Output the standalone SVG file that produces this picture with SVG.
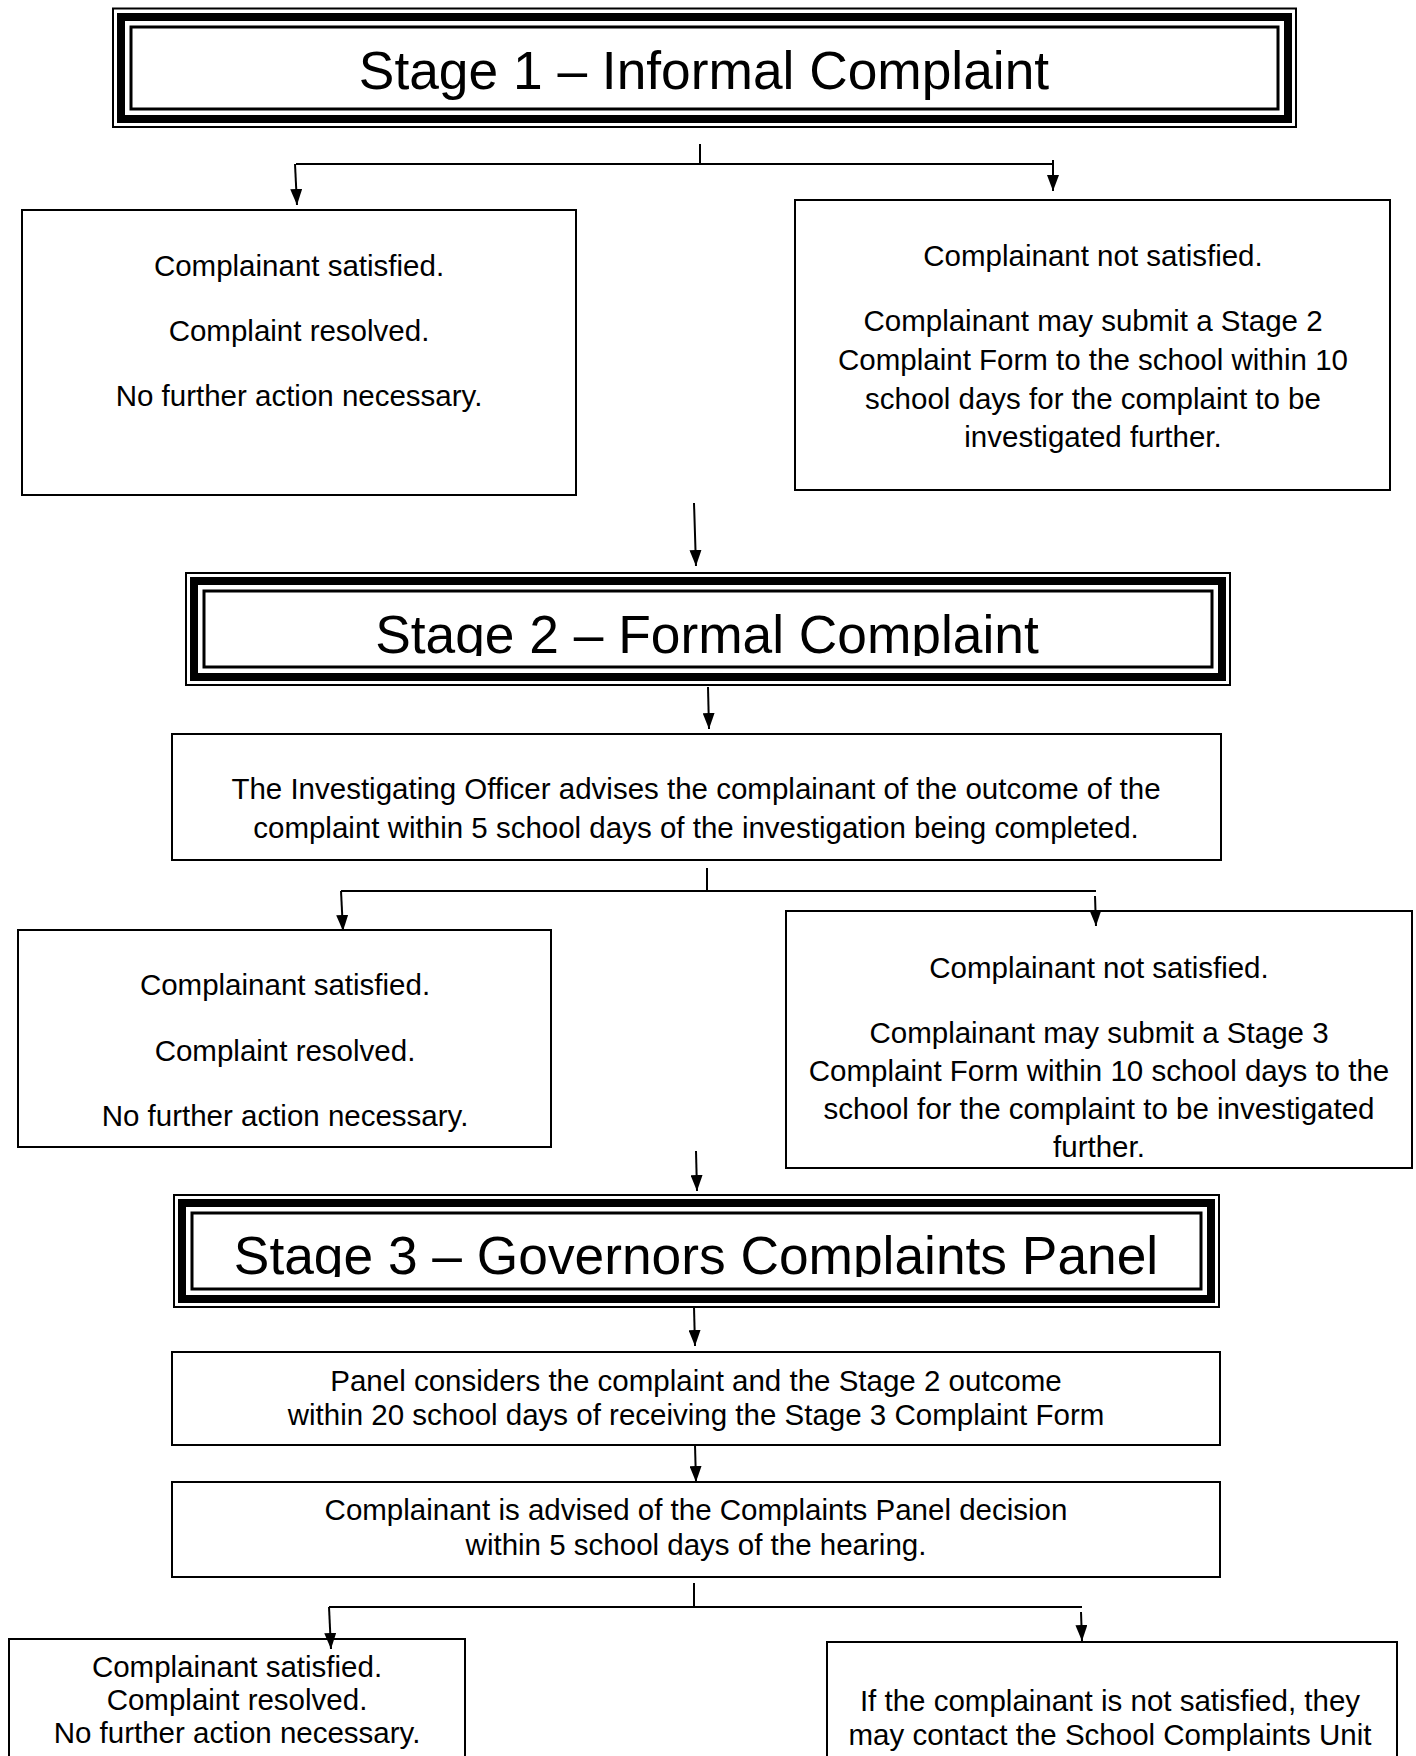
<svg xmlns="http://www.w3.org/2000/svg" width="1416" height="1756" viewBox="0 0 1416 1756">
<style>
  .box { fill: #fff; stroke: #000; stroke-width: 2; }
  .b1 { fill: none; stroke: #000; stroke-width: 2; }
  .b2 { fill: none; stroke: #000; stroke-width: 8; }
  .b3 { fill: none; stroke: #000; stroke-width: 3; }
  .conn { fill: none; stroke: #000; stroke-width: 2; }
  .title { font-family: "Liberation Sans", Arial, sans-serif; font-size: 53.3px; fill: #000; text-anchor: middle; }
  .t { font-family: "Liberation Sans", Arial, sans-serif; font-size: 29.5px; fill: #000; text-anchor: middle; }
</style>
<defs>
  <marker id="arr" markerUnits="userSpaceOnUse" markerWidth="16" markerHeight="12" refX="16" refY="6" orient="auto">
    <path d="M0,0 L16,6 L0,12 z" fill="#000"/>
  </marker>
  <clipPath id="clip2"><rect x="200" y="590" width="1014" height="66"/></clipPath>
  <clipPath id="clip3"><rect x="190" y="1210" width="1014" height="67"/></clipPath>
</defs>
<rect width="1416" height="1756" fill="#fff"/>

<g id="stage1">
  <rect class="b1" x="113" y="8.5" width="1183" height="118.5"/>
  <rect class="b2" x="121" y="17" width="1167" height="102"/>
  <rect class="b3" x="131" y="27" width="1147" height="82"/>
  <text class="title" x="704" y="89">Stage 1 – Informal Complaint</text>
</g>

<g id="s1-satisfied">
  <rect class="box" x="22" y="210" width="554" height="285"/>
  <text class="t" x="299" y="276">Complainant satisfied.</text>
  <text class="t" x="299" y="341">Complaint resolved.</text>
  <text class="t" x="299" y="406">No further action necessary.</text>
</g>

<g id="s1-not-satisfied">
  <rect class="box" x="795" y="200" width="595" height="290"/>
  <text class="t" x="1093" y="266">Complainant not satisfied.</text>
  <text class="t" x="1093" y="331">Complainant may submit a Stage 2</text>
  <text class="t" x="1093" y="370">Complaint Form to the school within 10</text>
  <text class="t" x="1093" y="409">school days for the complaint to be</text>
  <text class="t" x="1093" y="447">investigated further.</text>
</g>

<g id="stage2">
  <rect class="b1" x="186" y="573" width="1044" height="112"/>
  <rect class="b2" x="194" y="581" width="1028" height="96"/>
  <rect class="b3" x="204" y="591" width="1008" height="76"/>
  <text class="title" x="707" y="653" clip-path="url(#clip2)">Stage 2 – Formal Complaint</text>
</g>

<g id="s2-outcome">
  <rect class="box" x="172" y="734" width="1049" height="126"/>
  <text class="t" x="696" y="799">The Investigating Officer advises the complainant of the outcome of the</text>
  <text class="t" x="696" y="838">complaint within 5 school days of the investigation being completed.</text>
</g>

<g id="s2-satisfied">
  <rect class="box" x="18" y="930" width="533" height="217"/>
  <text class="t" x="285" y="995">Complainant satisfied.</text>
  <text class="t" x="285" y="1061">Complaint resolved.</text>
  <text class="t" x="285" y="1126">No further action necessary.</text>
</g>

<g id="s2-not-satisfied">
  <rect class="box" x="786" y="911" width="626" height="257"/>
  <text class="t" x="1099" y="978">Complainant not satisfied.</text>
  <text class="t" x="1099" y="1043">Complainant may submit a Stage 3</text>
  <text class="t" x="1099" y="1081">Complaint Form within 10 school days to the</text>
  <text class="t" x="1099" y="1119">school for the complaint to be investigated</text>
  <text class="t" x="1099" y="1157">further.</text>
</g>

<g id="stage3">
  <rect class="b1" x="174" y="1195" width="1045" height="112"/>
  <rect class="b2" x="182" y="1203" width="1029" height="96"/>
  <rect class="b3" x="192" y="1213" width="1009" height="76"/>
  <text class="title" x="696" y="1274" clip-path="url(#clip3)">Stage 3 – Governors Complaints Panel</text>
</g>

<g id="s3-panel">
  <rect class="box" x="172" y="1352" width="1048" height="93"/>
  <text class="t" x="696" y="1391">Panel considers the complaint and the Stage 2 outcome</text>
  <text class="t" x="696" y="1425">within 20 school days of receiving the Stage 3 Complaint Form</text>
</g>

<g id="s3-decision">
  <rect class="box" x="172" y="1482" width="1048" height="95"/>
  <text class="t" x="696" y="1520">Complainant is advised of the Complaints Panel decision</text>
  <text class="t" x="696" y="1555">within 5 school days of the hearing.</text>
</g>

<g id="s3-satisfied">
  <rect class="box" x="9" y="1639" width="456" height="140"/>
  <text class="t" x="237" y="1677">Complainant satisfied.</text>
  <text class="t" x="237" y="1710">Complaint resolved.</text>
  <text class="t" x="237" y="1743">No further action necessary.</text>
</g>

<g id="s3-not-satisfied">
  <rect class="box" x="827" y="1642" width="570" height="140"/>
  <text class="t" x="1110" y="1711">If the complainant is not satisfied, they</text>
  <text class="t" x="1110" y="1745">may contact the School Complaints Unit</text>
</g>

<g id="connectors">
  <line class="conn" x1="700" y1="144" x2="700" y2="164"/>
  <line class="conn" x1="296" y1="164" x2="1053" y2="164"/>
  <line class="conn" x1="295" y1="164" x2="297" y2="205" marker-end="url(#arr)"/>
  <line class="conn" x1="1053" y1="160" x2="1053" y2="191" marker-end="url(#arr)"/>
  <line class="conn" x1="694" y1="503" x2="696" y2="566" marker-end="url(#arr)"/>
  <line class="conn" x1="708" y1="687" x2="709" y2="729" marker-end="url(#arr)"/>
  <line class="conn" x1="707" y1="868" x2="707" y2="891"/>
  <line class="conn" x1="341" y1="891" x2="1096" y2="891"/>
  <line class="conn" x1="341" y1="891" x2="343" y2="931" marker-end="url(#arr)"/>
  <line class="conn" x1="1095" y1="896" x2="1096" y2="926" marker-end="url(#arr)"/>
  <line class="conn" x1="696" y1="1151" x2="697" y2="1191" marker-end="url(#arr)"/>
  <line class="conn" x1="694" y1="1307" x2="695" y2="1346" marker-end="url(#arr)"/>
  <line class="conn" x1="695" y1="1445" x2="696" y2="1482" marker-end="url(#arr)"/>
  <line class="conn" x1="694" y1="1583" x2="694" y2="1607"/>
  <line class="conn" x1="329" y1="1607" x2="1082" y2="1607"/>
  <line class="conn" x1="329" y1="1607" x2="331" y2="1649" marker-end="url(#arr)"/>
  <line class="conn" x1="1081" y1="1612" x2="1082" y2="1641" marker-end="url(#arr)"/>
</g>
</svg>
